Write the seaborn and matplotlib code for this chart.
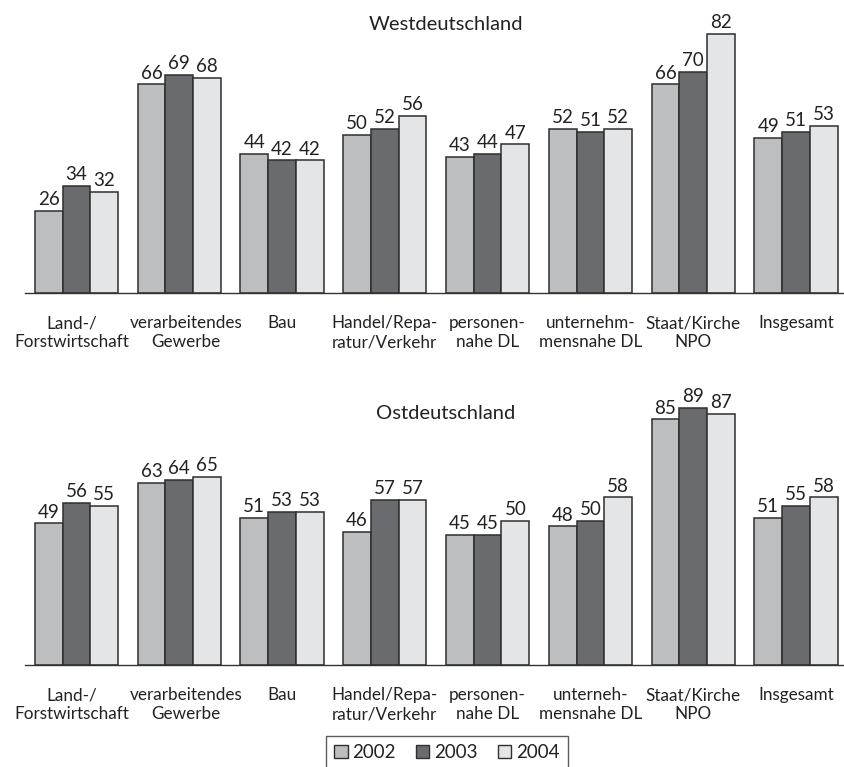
import matplotlib
matplotlib.use("Agg")
import matplotlib.pyplot as plt
from matplotlib.patches import Patch
from matplotlib.ticker import FixedLocator
from matplotlib.transforms import ScaledTranslation
import seaborn as sns
import pandas as pd
import numpy as np

# Beschäftigungsanteile nach Branche, West- und Ostdeutschland
years = ["2002", "2003", "2004"]

cats_west = ["Land-/\nForstwirtschaft", "verarbeitendes\nGewerbe", "Bau",
             "Handel/Repa-\nratur/Verkehr", "personen-\nnahe DL",
             "unternehm-\nmensnahe DL", "Staat/Kirche\nNPO", "Insgesamt"]
cats_ost = ["Land-/\nForstwirtschaft", "verarbeitendes\nGewerbe", "Bau",
            "Handel/Repa-\nratur/Verkehr", "personen-\nnahe DL",
            "unterneh-\nmensnahe DL", "Staat/Kirche\nNPO", "Insgesamt"]

west_2002 = [26, 66, 44, 50, 43, 52, 66, 49]
west_2003 = [34, 69, 42, 52, 44, 51, 70, 51]
west_2004 = [32, 68, 42, 56, 47, 52, 82, 53]

ost_2002 = [49, 63, 51, 46, 45, 48, 85, 51]
ost_2003 = [56, 64, 53, 57, 45, 50, 89, 55]
ost_2004 = [55, 65, 53, 57, 50, 58, 87, 58]

colors = ["#bdbec0", "#6a6b6f", "#e4e5e7"]
edge = "#2e2e2e"
text_color = "#222222"

sns.set_theme(style="white")
plt.rcParams["font.family"] = ["Lato", "DejaVu Sans"]
plt.rcParams["text.color"] = text_color
plt.rcParams["axes.labelcolor"] = text_color
plt.rcParams["xtick.color"] = text_color

FS = 13.5       # value labels, legend
FS_CAT = 12.3   # category labels
FS_TITLE = 14.5

# small horizontal nudges (in pixels) so the wide two-line labels don't collide
label_shift_px = [-5, 7, 0, 0, 0, 0, 0, 0]


def long_table(cats, series):
    rows = []
    for year, vals in zip(years, series):
        for c, v in zip(cats, vals):
            rows.append({"Bereich": c, "Jahr": year, "Anteil": v})
    return pd.DataFrame(rows)


def draw_panel(fig, ax, cats, series, ymax):
    df = long_table(cats, series)
    sns.barplot(data=df, x="Bereich", y="Anteil", hue="Jahr", order=cats,
                hue_order=years, palette=colors, width=0.81, gap=0,
                edgecolor=edge, linewidth=1.1, saturation=1, legend=False,
                ax=ax)
    for cont in ax.containers:
        ax.bar_label(cont, fmt="%d", padding=2, fontsize=FS, color=text_color)
    ax.set_xlim(-0.5, len(cats) - 0.5)
    ax.set_ylim(0, ymax)
    ax.set_xlabel("")
    ax.set_ylabel("")
    ax.set_yticks([])
    for s in ["top", "left", "right"]:
        ax.spines[s].set_visible(False)
    ax.spines["bottom"].set_color("#333333")
    ax.spines["bottom"].set_linewidth(1.0)
    ax.set_xticks(range(len(cats)))
    ax.set_xticklabels(cats, fontsize=FS_CAT, linespacing=1.25,
                       multialignment="center")
    ax.tick_params(axis="x", which="major", length=0, pad=16)
    ax.xaxis.set_minor_locator(FixedLocator(np.arange(-0.5, len(cats), 1.0)))
    ax.tick_params(axis="x", which="minor", length=5, width=1.0,
                   color="#333333", direction="out")
    for lab, dx in zip(ax.get_xticklabels(), label_shift_px):
        if dx:
            lab.set_transform(lab.get_transform() +
                              ScaledTranslation(dx / 100, 0,
                                                fig.dpi_scale_trans))


fig = plt.figure(figsize=(8.44, 7.67), dpi=100)
W, H = 844.0, 767.0
left = 25 / W
width = 8 * 102.8 / W

ax_w = fig.add_axes([left, (H - 293) / H, width, 90 * 3.16 / H])
ax_o = fig.add_axes([left, (H - 665) / H, width, 100 * 2.89 / H])
ax_w.patch.set_alpha(0)
ax_o.patch.set_alpha(0)

draw_panel(fig, ax_w, cats_west, [west_2002, west_2003, west_2004], 90)
draw_panel(fig, ax_o, cats_ost, [ost_2002, ost_2003, ost_2004], 100)

fig.text(446 / W, 1 - 25 / H, "Westdeutschland", ha="center", va="center",
         fontsize=FS_TITLE)
fig.text(446 / W, 1 - 414 / H, "Ostdeutschland", ha="center", va="center",
         fontsize=FS_TITLE)

handles = [Patch(facecolor=c, edgecolor=edge, linewidth=1.0) for c in colors]
leg = fig.legend(handles, years, loc="upper center",
                 bbox_to_anchor=(447 / W, 1 - 736 / H), ncol=3, fontsize=FS,
                 frameon=True, fancybox=False, handlelength=0.7,
                 handleheight=0.7, handletextpad=0.25, columnspacing=1.1,
                 borderpad=0.45, borderaxespad=0)
leg.get_frame().set_edgecolor("#333333")
leg.get_frame().set_linewidth(1.0)

fig.savefig("out.png", dpi=100)
